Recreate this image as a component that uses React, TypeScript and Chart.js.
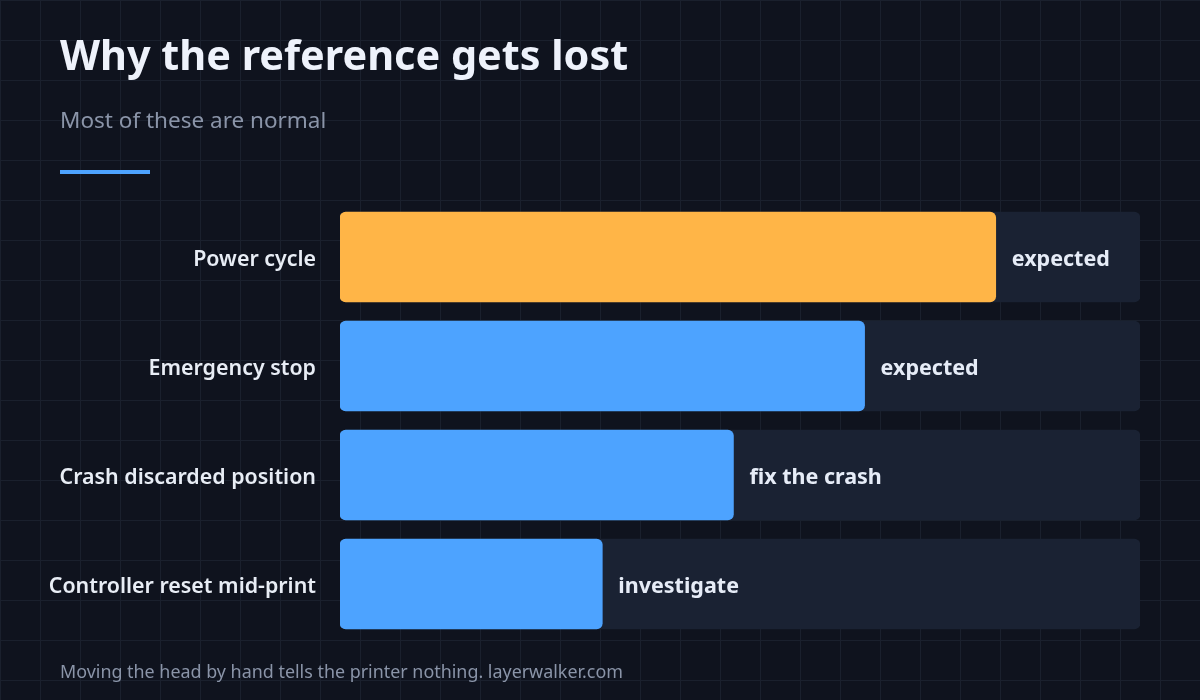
import React, { useEffect, useRef } from "react";
import { Chart, registerables } from "chart.js";

Chart.register(...registerables);

const categories = [
  "Power cycle",
  "Emergency stop",
  "Crash discarded position",
  "Controller reset mid-print",
];
const values = [5, 4, 3, 2];
const statusLabels = ["expected", "expected", "fix the crash", "investigate"];
const barColors = ["#ffb547", "#4da3ff", "#4da3ff", "#4da3ff"];
const scaleMax = 6.1;
const trackValues = categories.map(() => scaleMax);

const FONT = "'Noto Sans', 'Open Sans', sans-serif";

const chromePlugin = {
  id: "chrome",
  afterDraw(chart: any) {
    const ctx = chart.ctx as CanvasRenderingContext2D;
    ctx.save();
    ctx.textAlign = "left";
    ctx.textBaseline = "alphabetic";
    ctx.fillStyle = "#eef2fb";
    ctx.font = `700 41.4px ${FONT}`;
    ctx.fillText("Why the reference gets lost", 60, 70);
    ctx.fillStyle = "#8a94a8";
    ctx.font = `400 22.5px ${FONT}`;
    ctx.fillText("Most of these are normal", 60, 128);
    ctx.fillStyle = "#4da3ff";
    ctx.fillRect(60, 170, 90, 4);
    ctx.fillStyle = "#8a94a8";
    ctx.font = `400 17.9px ${FONT}`;
    ctx.fillText("Moving the head by hand tells the printer nothing. layerwalker.com", 60, 678);

    // status labels at bar ends
    const meta = chart.getDatasetMeta(0);
    ctx.fillStyle = "#e6ecf7";
    ctx.font = `700 21.5px ${FONT}`;
    ctx.textBaseline = "middle";
    meta.data.forEach((bar: any, i: number) => {
      ctx.fillText(statusLabels[i], bar.x + 16, bar.y + 3);
    });
    ctx.restore();
  },
};

export default function App() {
  const ref = useRef<HTMLCanvasElement | null>(null);
  useEffect(() => {
    if (!ref.current) return;
    const chart = new Chart(ref.current, {
      type: "bar",
      data: {
        labels: categories,
        datasets: [
          {
            data: values,
            backgroundColor: barColors,
            borderRadius: 6,
            borderSkipped: false,
            barThickness: 90,
            grouped: false,
          } as any,
          {
            data: trackValues,
            backgroundColor: "#1a2233",
            borderRadius: 6,
            borderSkipped: false,
            barThickness: 90,
            grouped: false,
          } as any,
        ],
      },
      plugins: [chromePlugin],
      options: {
        indexAxis: "y",
        animation: false,
        responsive: false,
        devicePixelRatio: 1,
        layout: { padding: { left: 0, right: 60, top: 202.5, bottom: 61.5 } },
        plugins: { legend: { display: false }, tooltip: { enabled: false } },
        scales: {
          x: { display: false, min: 0, max: scaleMax },
          y: {
            afterFit(scale: any) {
              scale.width = 340;
            },
            grid: { display: false, drawTicks: false },
            border: { display: false },
            ticks: {
              padding: 24,
              labelOffset: 3,
              color: "#e8edf5",
              font: { family: FONT, size: 21.4, weight: 600 as any },
            },
          },
        },
      } as any,
    });
    return () => chart.destroy();
  }, []);

  return (
    <div
      style={{
        position: "fixed",
        left: 0,
        top: 0,
        width: 1200,
        height: 700,
        backgroundColor: "#0f131e",
        backgroundImage:
          "linear-gradient(to right, #1a202d 1px, transparent 1px), linear-gradient(to bottom, #1a202d 1px, transparent 1px)",
        backgroundSize: "40px 40px",
      }}
    >
      <canvas ref={ref} width={1200} height={700} style={{ display: "block", width: 1200, height: 700 }} />
    </div>
  );
}
